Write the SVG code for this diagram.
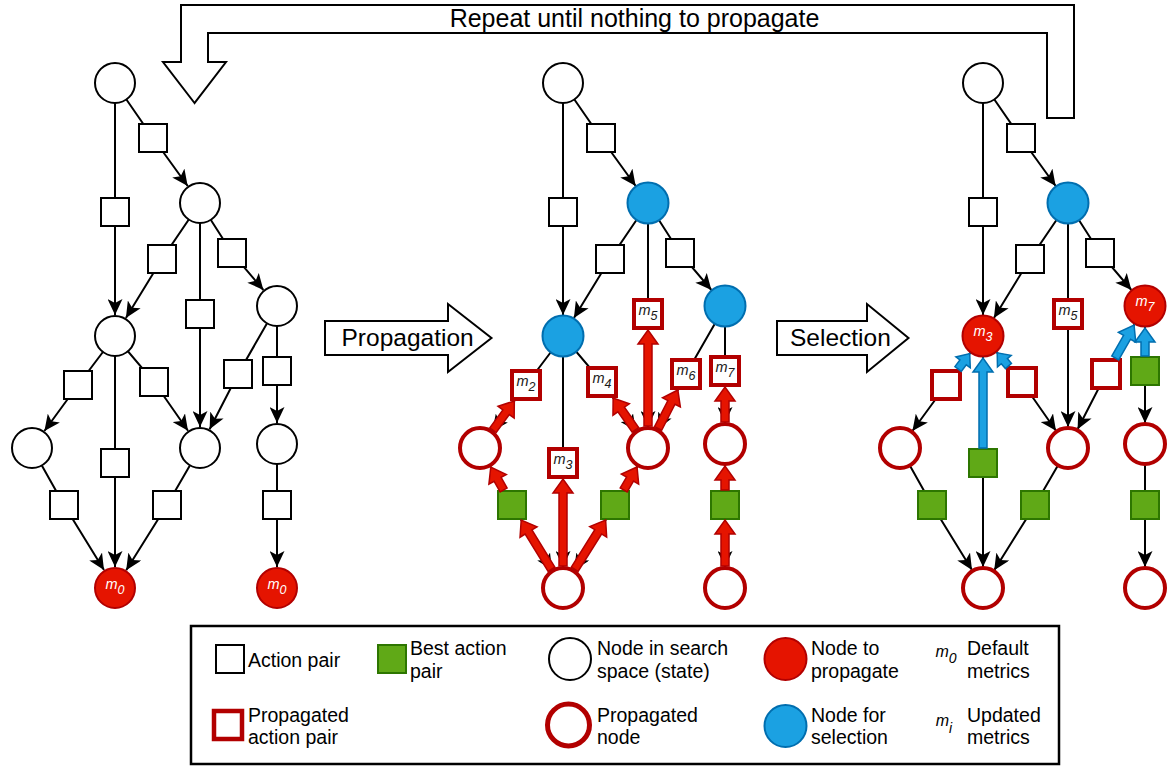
<svg xmlns="http://www.w3.org/2000/svg" width="1171" height="767" viewBox="0 0 1171 767">
<defs>
<style>
.n{fill:#fff;stroke:#000;stroke-width:2}
.nb{fill:#1BA1E2;stroke:#006EAF;stroke-width:2}
.nr{fill:#E51400;stroke:#B20000;stroke-width:2}
.np{fill:#fff;stroke:#B20000;stroke-width:4}
.a{fill:#fff;stroke:#000;stroke-width:2}
.ag{fill:#60A917;stroke:#2D7600;stroke-width:2}
.ap{fill:#fff;stroke:#B20000;stroke-width:4}
.e path{fill:none;stroke:#000;stroke-width:2;marker-end:url(#ah)}
.fr path{fill:#E51400;stroke:#B20000;stroke-width:1.5}
.fb path{fill:#1BA1E2;stroke:#006EAF;stroke-width:1.5}
.ml{font-family:"Liberation Sans",Arial,sans-serif;font-style:italic;font-size:14.5px;fill:#1a1a1a;text-anchor:middle}
.mw{font-family:"Liberation Sans",Arial,sans-serif;font-style:italic;font-size:14.5px;fill:#fff;text-anchor:middle}
.sb{font-size:12.5px}
.lt{font-family:"Liberation Sans",Arial,sans-serif;font-size:19.5px;fill:#000}
.big{font-family:"Liberation Sans",Arial,sans-serif;font-size:24.5px;fill:#000}
.blk{fill:#fff;stroke:#000;stroke-width:2}
</style>
<marker id="ah" viewBox="0 0 16 15" refX="16" refY="7.5" markerWidth="16" markerHeight="15" markerUnits="userSpaceOnUse" orient="auto"><path d="M0,0 L16,7.5 L0,15 L4,7.5 Z" fill="#000"/></marker>
</defs>
<rect width="1171" height="767" fill="#fff"/>

<!-- loop arrow -->
<g id="repeat-arrow">
<path class="blk" d="M194.5,103 L163,62 L181,62 L181,5 L1074,5 L1074,118 L1047,118 L1047,33 L208,33 L208,62 L226,62 Z"/>
<text class="big" x="634.5" y="27" text-anchor="middle" style="font-size:25px">Repeat until nothing to propagate</text>
</g>

<g id="propagation-step">
<polygon class="blk" points="325,321 448,321 448,304 491.5,338 448,372 448,355 325,355"/>
<text class="big" x="341.5" y="346">Propagation</text>
</g>
<g id="selection-step">
<polygon class="blk" points="777,321 867,321 867,304 908.5,338 867,372 867,355 777,355"/>
<text class="big" x="790" y="346">Selection</text>
</g>

<!-- black connectors -->
<g id="connectors" class="e">
<g id="edges-initial">
<path d="M115,83 L153,138 L187.7,186"/>
<path d="M115,83 L115,315"/>
<path d="M200,203 L162,259 L125.9,318.1"/>
<path d="M200,203 L200,427"/>
<path d="M200,203 L232,253 L263.4,290"/>
<path d="M115,336 L78,385 L44.4,431"/>
<path d="M115,336 L115,567"/>
<path d="M115,336 L154,382 L188,430.8"/>
<path d="M277,306 L238,374 L209.6,429.3"/>
<path d="M277,306 L277,423"/>
<path d="M32,448 L64,505 L104,570.1"/>
<path d="M200,448 L167,505 L126.2,570.2"/>
<path d="M277,444 L277,567"/>
</g>
<g id="edges-propagation" transform="translate(448,0)">
<path d="M115,83 L153,138 L187.7,186"/>
<path d="M115,83 L115,315"/>
<path d="M200,203 L162,259 L125.9,318.1"/>
<path d="M200,203 L200,427"/>
<path d="M200,203 L232,253 L263.4,290"/>
<path d="M115,336 L78,385 L44.4,431"/>
<path d="M115,336 L115,567"/>
<path d="M115,336 L154,382 L188,430.8"/>
<path d="M277,306 L238,374 L209.6,429.3"/>
<path d="M277,306 L277,423"/>
<path d="M32,448 L64,505 L104,570.1"/>
<path d="M200,448 L167,505 L126.2,570.2"/>
<path d="M277,444 L277,567"/>
</g>
<g id="edges-selection" transform="translate(868,0)">
<path d="M115,83 L153,138 L187.7,186"/>
<path d="M115,83 L115,315"/>
<path d="M200,203 L162,259 L125.9,318.1"/>
<path d="M200,203 L200,427"/>
<path d="M200,203 L232,253 L263.4,290"/>
<path d="M115,336 L78,385 L44.4,431"/>
<path d="M115,336 L115,567"/>
<path d="M115,336 L154,382 L188,430.8"/>
<path d="M277,306 L238,374 L209.6,429.3"/>
<path d="M277,306 L277,423"/>
<path d="M32,448 L64,505 L104,570.1"/>
<path d="M200,448 L167,505 L126.2,570.2"/>
<path d="M277,444 L277,567"/>
</g>
</g>

<!-- tree 1 -->
<g id="tree-initial">
<g id="a-s1"><rect class="a" x="139" y="124" width="28" height="28"/></g>
<g id="a-s2"><rect class="a" x="101" y="198" width="28" height="28"/></g>
<g id="a-s3"><rect class="a" x="148" y="245" width="28" height="28"/></g>
<g id="a-s4"><rect class="a" x="186" y="300" width="28" height="28"/></g>
<g id="a-s5"><rect class="a" x="218" y="239" width="28" height="28"/></g>
<g id="a-s6"><rect class="a" x="64" y="371" width="28" height="28"/></g>
<g id="a-s7"><rect class="a" x="101" y="449" width="28" height="28"/></g>
<g id="a-s8"><rect class="a" x="140" y="368" width="28" height="28"/></g>
<g id="a-s9"><rect class="a" x="224" y="360" width="28" height="28"/></g>
<g id="a-s10"><rect class="a" x="263" y="357" width="28" height="28"/></g>
<g id="a-s11"><rect class="a" x="50" y="491" width="28" height="28"/></g>
<g id="a-s12"><rect class="a" x="153" y="491" width="28" height="28"/></g>
<g id="a-s13"><rect class="a" x="263" y="491" width="28" height="28"/></g>
<g id="a-root"><circle class="n" cx="115" cy="83" r="20"/></g>
<g id="a-n2"><circle class="n" cx="200" cy="203" r="20"/></g>
<g id="a-L"><circle class="n" cx="115" cy="336" r="20"/></g>
<g id="a-n3"><circle class="n" cx="277" cy="306" r="20"/></g>
<g id="a-LL"><circle class="n" cx="32" cy="448" r="20"/></g>
<g id="a-LR"><circle class="n" cx="200" cy="448" r="20"/></g>
<g id="a-c3"><circle class="n" cx="277" cy="444" r="20"/></g>
<g id="a-b"><circle class="nr" cx="115" cy="588" r="20"/><text class="mw" x="115" y="589">m<tspan class="sb" dy="5">0</tspan></text></g>
<g id="a-b3"><circle class="nr" cx="277" cy="588" r="20"/><text class="mw" x="277" y="589">m<tspan class="sb" dy="5">0</tspan></text></g>
</g>

<!-- tree 2 -->
<g id="tree-propagation" transform="translate(448,0)">
<g id="b-s1"><rect class="a" x="139" y="124" width="28" height="28"/></g>
<g id="b-s2"><rect class="a" x="101" y="198" width="28" height="28"/></g>
<g id="b-s3"><rect class="a" x="148" y="245" width="28" height="28"/></g>
<g id="b-s4"><rect class="ap" x="186" y="300" width="28" height="28"/><text class="ml" x="200" y="315">m<tspan class="sb" dy="5">5</tspan></text></g>
<g id="b-s5"><rect class="a" x="218" y="239" width="28" height="28"/></g>
<g id="b-s6"><rect class="ap" x="64" y="371" width="28" height="28"/><text class="ml" x="78" y="386">m<tspan class="sb" dy="5">2</tspan></text></g>
<g id="b-s7"><rect class="ap" x="101" y="449" width="28" height="28"/><text class="ml" x="115" y="464">m<tspan class="sb" dy="5">3</tspan></text></g>
<g id="b-s8"><rect class="ap" x="140" y="368" width="28" height="28"/><text class="ml" x="154" y="383">m<tspan class="sb" dy="5">4</tspan></text></g>
<g id="b-s9"><rect class="ap" x="224" y="360" width="28" height="28"/><text class="ml" x="238" y="375">m<tspan class="sb" dy="5">6</tspan></text></g>
<g id="b-s10"><rect class="ap" x="263" y="357" width="28" height="28"/><text class="ml" x="277" y="372">m<tspan class="sb" dy="5">7</tspan></text></g>
<g id="b-s11"><rect class="ag" x="50" y="491" width="28" height="28"/></g>
<g id="b-s12"><rect class="ag" x="153" y="491" width="28" height="28"/></g>
<g id="b-s13"><rect class="ag" x="263" y="491" width="28" height="28"/></g>
<g id="b-root"><circle class="n" cx="115" cy="83" r="20"/></g>
<g id="b-n2"><circle class="nb" cx="200" cy="203" r="20.5"/></g>
<g id="b-L"><circle class="nb" cx="115" cy="336" r="20.5"/></g>
<g id="b-n3"><circle class="nb" cx="277" cy="306" r="20.5"/></g>
<g id="b-LL"><circle class="np" cx="32" cy="448" r="20"/></g>
<g id="b-LR"><circle class="np" cx="200" cy="448" r="20"/></g>
<g id="b-c3"><circle class="np" cx="277" cy="444" r="20"/></g>
<g id="b-b"><circle class="np" cx="115" cy="588" r="20"/></g>
<g id="b-b3"><circle class="np" cx="277" cy="588" r="20"/></g>
</g>

<!-- tree 3 -->
<g id="tree-selection" transform="translate(868,0)">
<g id="c-s1"><rect class="a" x="139" y="124" width="28" height="28"/></g>
<g id="c-s2"><rect class="a" x="101" y="198" width="28" height="28"/></g>
<g id="c-s3"><rect class="a" x="148" y="245" width="28" height="28"/></g>
<g id="c-s4"><rect class="ap" x="186" y="300" width="28" height="28"/><text class="ml" x="200" y="315">m<tspan class="sb" dy="5">5</tspan></text></g>
<g id="c-s5"><rect class="a" x="218" y="239" width="28" height="28"/></g>
<g id="c-s6"><rect class="ap" x="64" y="371" width="28" height="28"/></g>
<g id="c-s7"><rect class="ag" x="101" y="449" width="28" height="28"/></g>
<g id="c-s8"><rect class="ap" x="140" y="368" width="28" height="28"/></g>
<g id="c-s9"><rect class="ap" x="224" y="360" width="28" height="28"/></g>
<g id="c-s10"><rect class="ag" x="263" y="357" width="28" height="28"/></g>
<g id="c-s11"><rect class="ag" x="50" y="491" width="28" height="28"/></g>
<g id="c-s12"><rect class="ag" x="153" y="491" width="28" height="28"/></g>
<g id="c-s13"><rect class="ag" x="263" y="491" width="28" height="28"/></g>
<g id="c-root"><circle class="n" cx="115" cy="83" r="20"/></g>
<g id="c-n2"><circle class="nb" cx="200" cy="203" r="20.5"/></g>
<g id="c-L"><circle class="nr" cx="115" cy="336" r="20.5"/><text class="mw" x="115" y="336">m<tspan class="sb" dy="5">3</tspan></text></g>
<g id="c-n3"><circle class="nr" cx="277" cy="306" r="20.5"/><text class="mw" x="277" y="306">m<tspan class="sb" dy="5">7</tspan></text></g>
<g id="c-LL"><circle class="np" cx="32" cy="448" r="20"/></g>
<g id="c-LR"><circle class="np" cx="200" cy="448" r="20"/></g>
<g id="c-c3"><circle class="np" cx="277" cy="444" r="20"/></g>
<g id="c-b"><circle class="np" cx="115" cy="588" r="20"/></g>
<g id="c-b3"><circle class="np" cx="277" cy="588" r="20"/></g>
</g>

<!-- flow arrows -->
<g id="propagation-arrows" class="fr" transform="translate(448,0)">
<path transform="translate(103.5,569.3) rotate(-121.6)" d="M0,-4H43.8V-10L57.8,0L43.8,10V4H0Z"/>
<path transform="translate(115,566) rotate(-90)" d="M0,-4H73V-10L87,0L73,10V4H0Z"/>
<path transform="translate(126.7,569.3) rotate(-57.9)" d="M0,-4H44.2V-10L58.2,0L44.2,10V4H0Z"/>
<path transform="translate(55.6,490) rotate(-119.3)" d="M0,-4H12.2V-10L26.2,0L12.2,10V4H0Z"/>
<path transform="translate(175.7,490) rotate(-59.9)" d="M0,-4H12.6V-10L26.6,0L12.6,10V4H0Z"/>
<path transform="translate(45,430.2) rotate(-53.9)" d="M0,-4H22.2V-10L36.2,0L22.2,10V4H0Z"/>
<path transform="translate(187.4,429.9) rotate(-124.9)" d="M0,-4H24.9V-10L38.9,0L24.9,10V4H0Z"/>
<path transform="translate(200,426) rotate(-90)" d="M0,-4H82V-10L96,0L82,10V4H0Z"/>
<path transform="translate(210.1,428.4) rotate(-62.8)" d="M0,-4H29.2V-10L43.2,0L29.2,10V4H0Z"/>
<path transform="translate(277,422) rotate(-90)" d="M0,-4H21V-10L35,0L21,10V4H0Z"/>
<path transform="translate(277,490) rotate(-90)" d="M0,-4H10V-10L24,0L10,10V4H0Z"/>
<path transform="translate(277,566) rotate(-90)" d="M0,-4H32V-10L46,0L32,10V4H0Z"/>
</g>
<g id="selection-arrows" class="fb" transform="translate(868,0)">
<path transform="translate(90.1,369) rotate(-53)" d="M0,-4H8.3V-9L19.3,0L8.3,9V4H0Z"/>
<path transform="translate(115,448) rotate(-90)" d="M0,-4H76V-10L90,0L76,10V4H0Z"/>
<path transform="translate(140.4,366) rotate(-130.3)" d="M0,-4H6.3V-9L17.3,0L6.3,9V4H0Z"/>
<path transform="translate(247.2,358) rotate(-60.2)" d="M0,-4H23.9V-10L37.9,0L23.9,10V4H0Z"/>
<path transform="translate(277,356) rotate(-90)" d="M0,-4H14V-10L28,0L14,10V4H0Z"/>
</g>

<!-- legend -->
<g id="legend">
<rect x="191" y="626" width="868" height="138" fill="#fff" stroke="#000" stroke-width="2.5"/>
<g id="lg-action"><rect class="a" x="216" y="645" width="28" height="28"/><text class="lt" x="248" y="666.5">Action pair</text></g>
<g id="lg-best"><rect class="ag" x="378" y="645" width="28" height="28"/><text class="lt" x="410" y="655">Best action</text><text class="lt" x="410" y="677.5">pair</text></g>
<g id="lg-node"><circle class="n" cx="570" cy="659" r="21"/><text class="lt" x="597" y="655">Node in search</text><text class="lt" x="597" y="677.5">space (state)</text></g>
<g id="lg-topropagate"><circle class="nr" cx="785.5" cy="659" r="21"/><text class="lt" x="811" y="655">Node to</text><text class="lt" x="811" y="677.5">propagate</text></g>
<g id="lg-default"><text class="ml" x="946" y="657" style="font-size:16px;fill:#000">m<tspan style="font-size:14px" dy="6">0</tspan></text><text class="lt" x="967" y="655">Default</text><text class="lt" x="967" y="677.5">metrics</text></g>
<g id="lg-propaction"><rect class="ap" x="214" y="711" width="28" height="28" style="stroke-width:4.5"/><text class="lt" x="248" y="721.5">Propagated</text><text class="lt" x="248" y="744">action pair</text></g>
<g id="lg-propnode"><circle class="np" cx="568.5" cy="725" r="21" style="stroke-width:5"/><text class="lt" x="597" y="721.5">Propagated</text><text class="lt" x="597" y="744">node</text></g>
<g id="lg-selection"><circle class="nb" cx="785.5" cy="726" r="21"/><text class="lt" x="811" y="721.5">Node for</text><text class="lt" x="811" y="744">selection</text></g>
<g id="lg-updated"><text class="ml" x="944" y="726" style="font-size:16px;fill:#000">m<tspan style="font-size:14px" dy="7">i</tspan></text><text class="lt" x="967" y="721.5">Updated</text><text class="lt" x="967" y="744">metrics</text></g>
</g>
</svg>
